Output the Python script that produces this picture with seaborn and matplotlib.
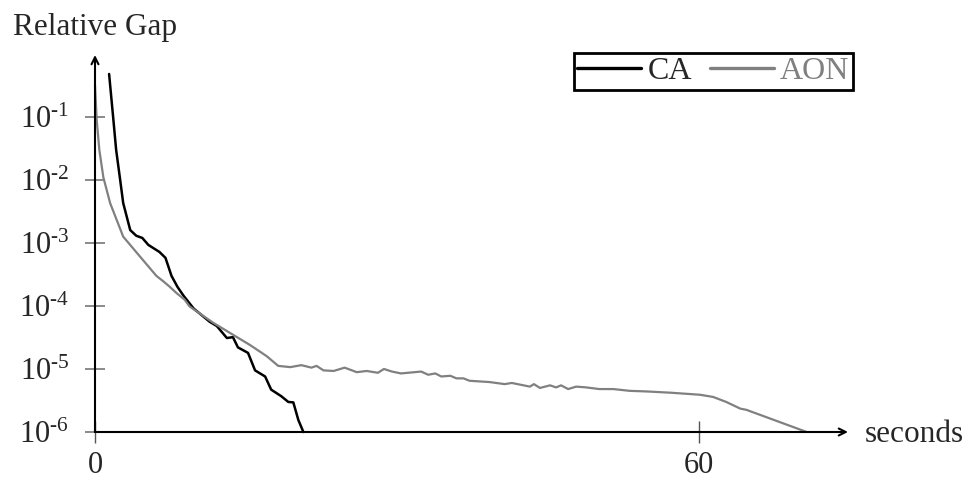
import pandas as pd
import seaborn as sns
import matplotlib.pyplot as plt
from matplotlib.lines import Line2D

# CA run: time (s) and relative gap
ca_time = [1.4, 1.8, 2.1, 2.5, 2.8, 3.5, 4.1, 4.7, 5.3, 6.4, 7.0, 7.6, 8.2, 8.8,
           9.8, 11.4, 12.1, 13.1, 13.7, 14.2, 15.2, 15.9, 16.9, 17.5, 18.5,
           19.2, 19.7, 20.2, 20.7]
ca_gap = [0.48, 0.10, 0.030, 0.010, 4.3e-3, 1.6e-3, 1.3e-3, 1.2e-3, 9.3e-4,
          7.2e-4, 5.8e-4, 3.0e-4, 2.0e-4, 1.45e-4, 9.1e-5, 5.6e-5, 4.8e-5,
          3.1e-5, 3.2e-5, 2.2e-5, 1.8e-5, 9.5e-6, 7.6e-6, 4.7e-6, 3.7e-6,
          3.0e-6, 2.95e-6, 1.55e-6, 1.0e-6]

# AON run
aon_time = [0.0, 0.17, 0.43, 0.83, 1.5, 2.8, 4.5, 6.1, 6.8, 7.45, 8.1, 8.9,
            9.4, 11.75, 13.7, 15.4, 17.05, 18.2, 19.4, 20.5, 21.5, 22.0, 22.7,
            23.7, 24.8, 26.0, 27.0, 28.1, 28.7, 29.5, 30.4, 32.4, 33.1, 33.8,
            34.4, 35.3, 35.9, 36.6, 37.2, 39.2, 40.7, 41.4, 43.2, 43.6, 44.2,
            45.2, 45.8, 46.3, 47.0, 47.8, 48.8, 50.1, 51.5, 53.1, 54.8, 57.2,
            60.1, 61.4, 62.7, 64.1, 64.7, 70.7]
aon_gap = [0.32, 0.089, 0.030, 0.011, 4.3e-3, 1.26e-3, 6.0e-4, 3.0e-4, 2.45e-4,
           2.0e-4, 1.6e-4, 1.26e-4, 9.8e-5, 5.4e-5, 3.5e-5, 2.4e-5, 1.6e-5,
           1.12e-5, 1.07e-5, 1.15e-5, 1.05e-5, 1.12e-5, 9.5e-6, 9.3e-6, 1.05e-5,
           8.9e-6, 9.3e-6, 8.7e-6, 1.0e-5, 9.1e-6, 8.5e-6, 9.1e-6, 8.1e-6,
           8.5e-6, 7.6e-6, 7.8e-6, 7.1e-6, 7.1e-6, 6.5e-6, 6.2e-6, 5.75e-6,
           6.0e-6, 5.25e-6, 5.75e-6, 5.0e-6, 5.5e-6, 5.1e-6, 5.5e-6, 4.8e-6,
           5.25e-6, 5.1e-6, 4.8e-6, 4.8e-6, 4.5e-6, 4.4e-6, 4.2e-6, 3.9e-6,
           3.6e-6, 3.0e-6, 2.35e-6, 2.25e-6, 1.0e-6]

y_ticks = [1e-6, 1e-5, 1e-4, 1e-3, 1e-2, 1e-1]
y_labels = [r"10$^{\text{-6}}$", r"10$^{\text{-5}}$", r"10$^{\text{-4}}$",
            r"10$^{\text{-3}}$", r"10$^{\text{-2}}$", r"10$^{\text{-1}}$"]
x_ticks = [0, 60]

df = pd.concat([
    pd.DataFrame({"seconds": ca_time, "gap": ca_gap, "method": "CA"}),
    pd.DataFrame({"seconds": aon_time, "gap": aon_gap, "method": "AON"}),
])

sns.set_style("white")
plt.rcParams["font.family"] = ["Liberation Serif", "DejaVu Serif"]
plt.rcParams["mathtext.fontset"] = "custom"
plt.rcParams["mathtext.rm"] = "Liberation Serif"
plt.rcParams["mathtext.it"] = "Liberation Serif"
plt.rcParams["mathtext.default"] = "regular"

fig = plt.figure(figsize=(9.67, 4.8), dpi=100)
ax = fig.add_axes([95 / 967, 48 / 480, 753 / 967, 377 / 480])

sns.lineplot(data=df, x="seconds", y="gap", hue="method",
             palette={"CA": "black", "AON": "#808080"},
             ax=ax, sort=False, estimator=None, legend=False)
for line, lw in zip(ax.get_lines(), [1.8, 1.6]):
    line.set_linewidth(lw)
    line.set_clip_on(False)

ax.set_yscale("log")
ax.set_xlim(0, 74.8)
ax.set_ylim(1e-6, 0.96)
ax.set_yticks(y_ticks)
ax.set_yticklabels(y_labels)
ax.minorticks_off()
ax.set_xticks(x_ticks)
ax.set_xlabel("")
ax.set_ylabel("")

for s in ax.spines.values():
    s.set_visible(False)
for tip in [(1, 0), (0, 1)]:
    ax.annotate("", xy=tip, xytext=(0, 0), xycoords="axes fraction",
                arrowprops=dict(arrowstyle="->,head_length=0.5,head_width=0.25",
                                lw=1.5, color="black", shrinkA=0, shrinkB=0))

ax.tick_params(axis="y", direction="inout", length=15, width=1.2,
               color="#777777", labelsize=22, pad=11, left=True)
ax.tick_params(axis="x", direction="inout", length=16, width=1.0,
               color="#555555", labelsize=22, pad=6, bottom=True)

fig.text(13 / 967, 1 - 35 / 480, "Relative Gap", fontsize=22.5, va="baseline")
fig.text(865 / 967, 1 - 442 / 480, "seconds", fontsize=22.5, va="baseline")

handles = [Line2D([], [], color="black", lw=2.4),
           Line2D([], [], color="#808080", lw=2.4)]
leg = ax.legend(handles, ["CA", "AON"], loc="upper right",
                bbox_to_anchor=(1.007, 1.005), ncol=2, fontsize=23,
                frameon=True, fancybox=False, framealpha=1, edgecolor="black",
                handlelength=2.0, handletextpad=0.2, columnspacing=0.55,
                borderpad=0.12, borderaxespad=0)
leg.get_frame().set_linewidth(2.0)
leg.get_texts()[1].set_color("#808080")

plt.savefig("out.png", dpi=100)
